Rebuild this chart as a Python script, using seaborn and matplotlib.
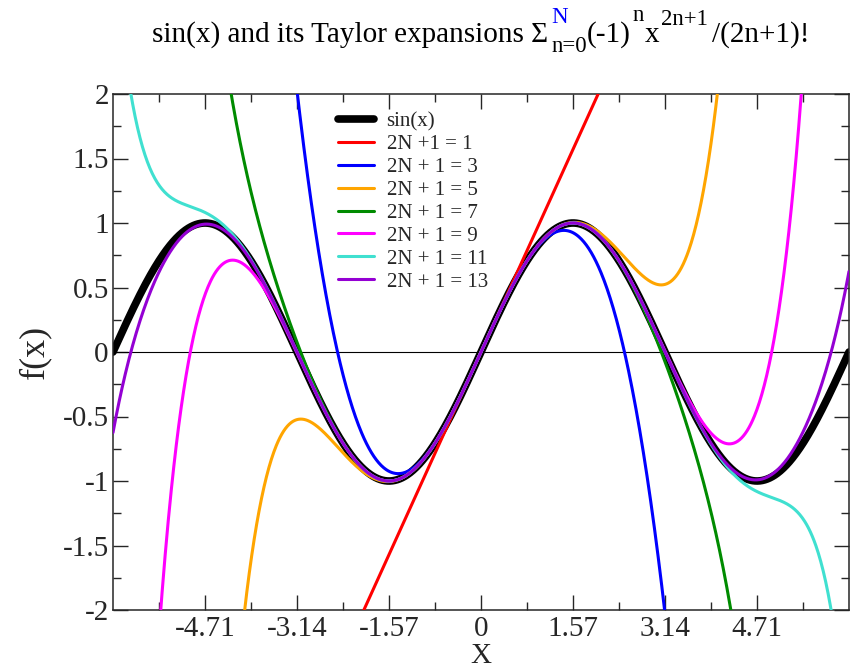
import math

import numpy as np
import pandas as pd
import matplotlib

matplotlib.use("Agg")
import matplotlib.pyplot as plt
import seaborn as sns

# orders of the Taylor polynomials shown (2N+1)
orders = [1, 3, 5, 7, 9, 11, 13]
labels = ["sin(x)", "2N +1 = 1", "2N + 1 = 3", "2N + 1 = 5", "2N + 1 = 7",
          "2N + 1 = 9", "2N + 1 = 11", "2N + 1 = 13"]
colors = ["#000000", "#ff0000", "#0000ff", "#ffa500", "#008b00",
          "#ff00ff", "#40e0d0", "#9400d3"]

xtick_labels = ["-4.71", "-3.14", "-1.57", "0", "1.57", "3.14", "4.71"]
ytick_labels = ["-2", "-1.5", "-1", "-0.5", "0", "0.5", "1", "1.5", "2"]

x_min, x_max = -2 * np.pi, 2 * np.pi
x = np.linspace(x_min, x_max, 1200)


def taylor_sin(x, order):
    """Partial sum of the sine series up to x**order."""
    total = np.zeros_like(x)
    for n in range((order - 1) // 2 + 1):
        total += (-1) ** n * x ** (2 * n + 1) / math.factorial(2 * n + 1)
    return total


curves = [np.sin(x)] + [taylor_sin(x, k) for k in orders]

sns.set_style("ticks")
plt.rcParams["font.family"] = ["Liberation Serif", "DejaVu Serif"]

W, H = 853, 670
fig = plt.figure(figsize=(W / 100, H / 100), dpi=100)
ax = fig.add_axes([113 / W, 1 - 610 / H, 736 / W, 516 / H])

ax.axhline(0, color="black", lw=0.8, zorder=1)
for i, (y, lab, col) in enumerate(zip(curves, labels, colors)):
    df = pd.DataFrame({"x": x, "y": y})
    sns.lineplot(data=df, x="x", y="y", ax=ax, color=col, label=lab,
                 lw=5.5 if i == 0 else 2.2, zorder=2 + i, sort=False)

ax.set_xlim(x_min, x_max)
ax.set_ylim(-2, 2)
ax.set_xticks([k * np.pi / 2 for k in range(-3, 4)], xtick_labels)
ax.set_xticks([k * np.pi / 4 for k in range(-7, 8, 2)], minor=True)
ax.set_yticks([v * 0.5 for v in range(-4, 5)], ytick_labels)
ax.set_yticks([v * 0.25 for v in range(-7, 8, 2)], minor=True)
ax.tick_params(which="both", direction="in", top=True, right=True,
               width=1.0, labelsize=21)
ax.tick_params(which="major", length=11)
ax.tick_params(which="minor", length=5.5)
ax.tick_params(axis="x", pad=4)
ax.tick_params(axis="y", pad=3)
for sp in ax.spines.values():
    sp.set_linewidth(1.1)

ax.set_xlabel("X", fontsize=21, labelpad=1)
ax.set_ylabel("f(x)", fontsize=26, labelpad=8)

leg = ax.legend(loc="upper left", bbox_to_anchor=(0.306, 0.966), frameon=False,
                fontsize=15, handlelength=1.7, handletextpad=0.62,
                labelspacing=0.16, borderaxespad=0, borderpad=0)

# title built from pieces so the upper limit N can be blue
renderer = fig.canvas.get_renderer()
base_y = H - 42
main_size, small_size = 21, 16.5
pieces = []


def put(px, text, dy=0, size=main_size, color="black"):
    t = fig.text(px / W, (base_y + dy) / H, text, fontsize=size, color=color,
                 ha="left", va="baseline")
    pieces.append(t)
    return px + t.get_window_extent(renderer=renderer).width


cur = put(0, "sin(x) and its Taylor expansions Σ")
cur += 3
end_sup = put(cur, "N", dy=19, size=small_size, color="#0000ff")
end_sub = put(cur, "n=0", dy=-10, size=small_size)
cur = max(end_sup, end_sub)
cur = put(cur, "(-1)")
cur = put(cur + 1, "n", dy=21, size=small_size)
cur = put(cur + 1, "x")
cur = put(cur + 2, "2n+1", dy=17, size=small_size)
cur = put(cur + 4, "/(2n+1)!")

shift = (113 + 849) / 2 - cur / 2
for t in pieces:
    px, py = t.get_position()
    t.set_position((px + shift / W, py))

fig.savefig("out.png", dpi=100)
